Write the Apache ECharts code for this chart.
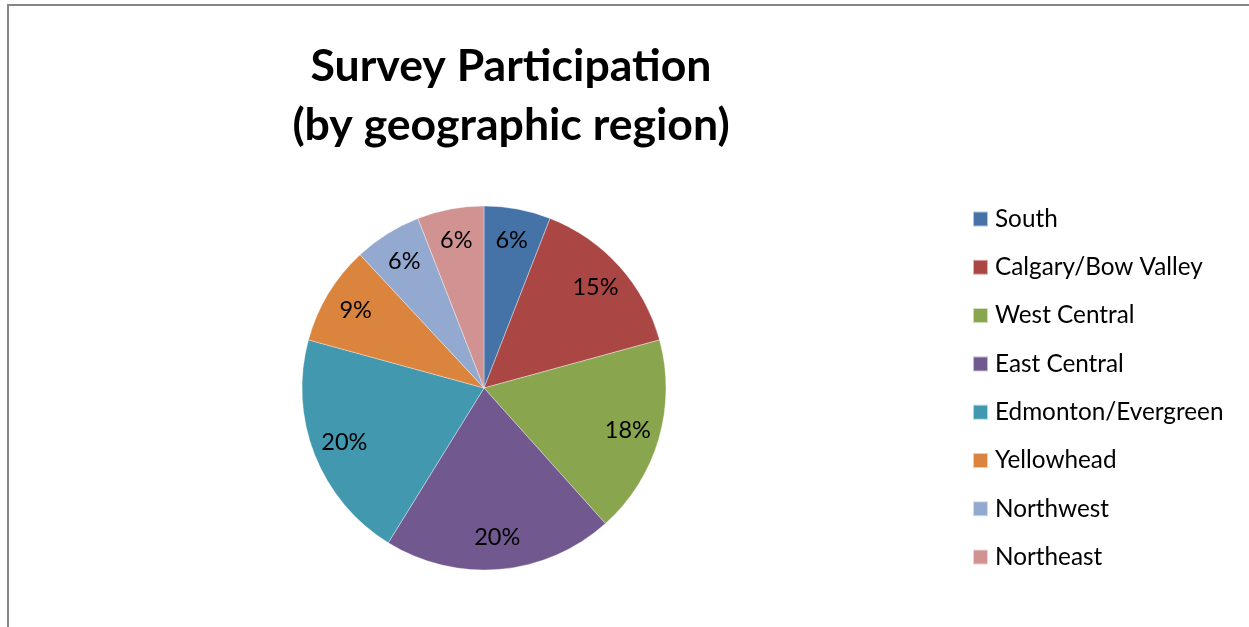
<!DOCTYPE html>
<html>
<head>
<meta charset="utf-8">
<script src="https://cdn.jsdelivr.net/npm/echarts@6/dist/echarts.min.js"></script>
<style>
html,body{margin:0;padding:0;background:#fff;}
#chart{width:1249px;height:627px;}
</style>
</head>
<body>
<div id="chart"></div>
<script>
var titleText = 'Survey Participation\n(by geographic region)';
var categories = ['South', 'Calgary/Bow Valley', 'West Central', 'East Central', 'Edmonton/Evergreen', 'Yellowhead', 'Northwest', 'Northeast'];
var shares = [5.9, 14.8, 17.6, 20.4, 20.4, 8.8, 6.0, 5.9];
var colors = ['#4572A7', '#AA4643', '#89A54E', '#71588F', '#4198AF', '#DB843D', '#93A9CF', '#D19392'];

var FONT = 'Lato';
var pieData = categories.map(function (c, i) {
  return { name: c, value: shares[i], itemStyle: { color: colors[i] } };
});

var chart = echarts.init(document.getElementById('chart'), null, { renderer: 'canvas' });
chart.setOption({
  backgroundColor: '#ffffff',
  animation: false,
  graphic: [{
    type: 'rect',
    shape: { x: 8, y: 5, width: 1400, height: 800 },
    style: { fill: 'none', stroke: '#868686', lineWidth: 2 },
    silent: true,
    z: 0
  }],
  title: {
    text: titleText,
    left: 506,
    top: 32,
    textAlign: 'center',
    textStyle: { fontFamily: FONT, fontWeight: 'bold', fontSize: 44.6, lineHeight: 59, color: '#000' }
  },
  legend: {
    orient: 'vertical',
    left: 972,
    top: 205,
    padding: 0,
    icon: 'rect',
    itemWidth: 15,
    itemHeight: 15,
    itemGap: 20.3,
    data: categories,
    textStyle: { fontFamily: FONT, fontSize: 24.3, lineHeight: 28, color: '#000', padding: [0, 0, 0, 2] }
  },
  series: [{
    type: 'pie',
    center: [484, 388],
    radius: [0, 182],
    startAngle: 90,
    clockwise: true,
    data: pieData,
    label: { show: false },
    labelLine: { show: false },
    itemStyle: { borderColor: 'rgba(255,255,255,0.6)', borderWidth: 0.6 },
    emphasis: { disabled: true },
    z: 2
  }, {
    type: 'pie',
    center: [484, 388],
    radius: [112, 182],
    startAngle: 90,
    clockwise: true,
    silent: true,
    data: categories.map(function (c, i) { return { name: c, value: shares[i] }; }),
    itemStyle: { color: 'rgba(0,0,0,0)', borderWidth: 0 },
    label: {
      show: true,
      position: 'inside',
      fontFamily: FONT,
      fontSize: 23.5,
      color: '#000',
      formatter: function (p) { return Math.round(p.percent) + '%'; }
    },
    labelLine: { show: false },
    emphasis: { disabled: true },
    z: 3
  }]
});
</script>
</body>
</html>
